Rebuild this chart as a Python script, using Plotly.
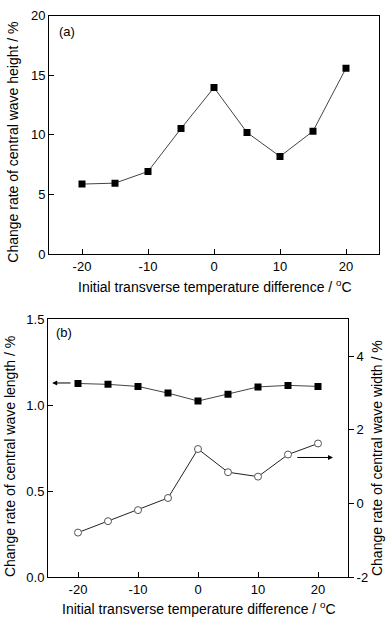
import plotly.graph_objects as go

temp_diff = [-20, -15, -10, -5, 0, 5, 10, 15, 20]
wave_height = [5.87, 5.95, 6.93, 10.53, 13.97, 10.2, 8.19, 10.31, 15.6]
wave_length = [1.127, 1.122, 1.110, 1.071, 1.025, 1.065, 1.107, 1.116, 1.110]
wave_width = [-0.79, -0.48, -0.18, 0.15, 1.48, 0.85, 0.73, 1.33, 1.63]

x_tickvals = [-20, -10, 0, 10, 20]
x_ticktext = ["-20", "-10", "0", "10", "20"]
ya_tickvals = [0, 5, 10, 15, 20]
yb_tickvals = [0, 0.5, 1.0, 1.5]
yb_ticktext = ["0.0", "0.5", "1.0", "1.5"]
yr_tickvals = [-2, 0, 2, 4]
yr_ticktext = ["-2", "0", "2", "4"]

xtitle = "Initial transverse temperature difference / <sup>o</sup>C"
FONT = "Liberation Sans, Arial, sans-serif"
TITLE_SIZE = 14
W, H = 392, 632

def px(x):
    return x / W

def py(y):
    return 1 - y / H

fig = go.Figure()

fig.add_trace(go.Scatter(x=temp_diff, y=wave_height, mode="lines+markers",
                         line=dict(color="#444444", width=1),
                         marker=dict(symbol="square", size=7, color="black"),
                         xaxis="x", yaxis="y", showlegend=False))
fig.add_trace(go.Scatter(x=temp_diff, y=wave_length, mode="lines+markers",
                         line=dict(color="#444444", width=1),
                         marker=dict(symbol="square", size=7, color="black"),
                         xaxis="x2", yaxis="y2", showlegend=False))
fig.add_trace(go.Scatter(x=temp_diff, y=wave_width, mode="lines+markers",
                         line=dict(color="#222222", width=1),
                         marker=dict(symbol="circle", size=7, color="white",
                                     line=dict(color="#555555", width=1)),
                         xaxis="x2", yaxis="y3", showlegend=False))

axis_common = dict(showline=True, linecolor="black", linewidth=1, showgrid=False,
                   zeroline=False, ticks="inside", ticklen=5, tickcolor="black",
                   tickfont=dict(size=13, color="black", family=FONT))

fig.update_layout(
    width=W, height=H,
    margin=dict(l=0, r=0, t=0, b=0),
    paper_bgcolor="white", plot_bgcolor="white",
    font=dict(family=FONT, color="black", size=13),
    xaxis=dict(domain=[px(49), px(379)], anchor="y", range=[-25, 25],
               tickvals=x_tickvals, ticktext=x_ticktext, mirror=True, **axis_common),
    yaxis=dict(domain=[py(253), py(9)], anchor="x", range=[0, 20],
               tickvals=ya_tickvals, mirror=True, **axis_common),
    xaxis2=dict(domain=[px(48), px(348)], anchor="y2", range=[-25, 25],
                tickvals=x_tickvals, ticktext=x_ticktext, mirror=True, **axis_common),
    yaxis2=dict(domain=[py(584), py(320)], anchor="x2", range=[0, 1.5],
                tickvals=yb_tickvals, ticktext=yb_ticktext, **axis_common),
    yaxis3=dict(overlaying="y2", side="right", anchor="x2", range=[-2, 5],
                tickvals=yr_tickvals, ticktext=yr_ticktext, showline=True,
                linecolor="black", linewidth=1,
                showgrid=False, zeroline=False, ticks="outside", ticklen=5,
                tickcolor="black", tickfont=dict(size=13, color="black", family=FONT)),
)

annotations = [
    dict(text="(a)", x=px(57), y=py(25), xref="paper", yref="paper",
         xanchor="left", yanchor="middle", showarrow=False, font=dict(size=13)),
    dict(text="(b)", x=px(54), y=py(333), xref="paper", yref="paper",
         xanchor="left", yanchor="middle", showarrow=False, font=dict(size=13)),
    dict(text=xtitle, x=px(215), y=py(286), xref="paper", yref="paper",
         xanchor="center", yanchor="middle", showarrow=False,
         font=dict(size=TITLE_SIZE)),
    dict(text=xtitle, x=px(199), y=py(616), xref="paper", yref="paper",
         xanchor="center", yanchor="middle", showarrow=False,
         font=dict(size=TITLE_SIZE)),
    dict(text="Change rate of central wave height / %", x=px(13), y=py(139),
         xref="paper", yref="paper", xanchor="center", yanchor="middle",
         textangle=-90, showarrow=False, font=dict(size=TITLE_SIZE)),
    dict(text="Change rate of central wave length / %", x=px(10), y=py(461),
         xref="paper", yref="paper", xanchor="center", yanchor="middle",
         textangle=-90, showarrow=False, font=dict(size=TITLE_SIZE)),
    dict(text="Change rate of central wave width / %", x=px(377), y=py(462),
         xref="paper", yref="paper", xanchor="center", yanchor="middle",
         textangle=-90, showarrow=False, font=dict(size=TITLE_SIZE)),
    # arrows indicating which axis each series belongs to
    dict(x=-24.3, y=1.13, ax=-21.0, ay=1.13, xref="x2", yref="y2",
         axref="x2", ayref="y2", text="", showarrow=True, arrowhead=2,
         arrowsize=1, arrowwidth=1, arrowcolor="black"),
    dict(x=22.5, y=1.25, ax=16.3, ay=1.25, xref="x2", yref="y3",
         axref="x2", ayref="y3", text="", showarrow=True, arrowhead=2,
         arrowsize=1, arrowwidth=1, arrowcolor="black"),
]
fig.update_layout(annotations=annotations)

fig.write_html("out.html", config={"displayModeBar": False},
               post_script="document.body.style.margin='0';document.body.style.overflow='hidden';")
